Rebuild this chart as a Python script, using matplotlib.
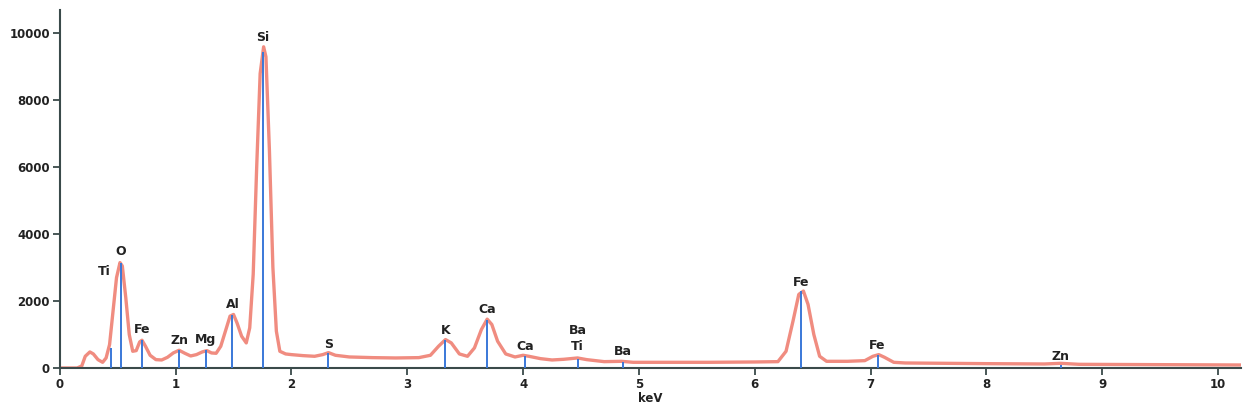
import matplotlib.pyplot as plt

# =========================
# Spectrum data
# =========================
energy = [0.00, 0.15, 0.19, 0.22, 0.26, 0.29, 0.33, 0.37, 0.40, 0.43, 0.46, 0.49,
          0.52, 0.54, 0.57, 0.60, 0.63, 0.66, 0.69, 0.71, 0.74, 0.78, 0.83, 0.88,
          0.93, 0.98, 1.03, 1.08, 1.13, 1.18, 1.23, 1.27, 1.31, 1.35, 1.39, 1.43,
          1.47, 1.50, 1.53, 1.57, 1.61, 1.64, 1.67, 1.70, 1.73, 1.76, 1.78, 1.81,
          1.84, 1.87, 1.90, 1.95, 2.00, 2.10, 2.20, 2.27, 2.32, 2.38, 2.50, 2.70,
          2.90, 3.10, 3.20, 3.27, 3.33, 3.38, 3.45, 3.52, 3.58, 3.64, 3.69, 3.73,
          3.78, 3.85, 3.93, 4.00, 4.05, 4.15, 4.25, 4.35, 4.47, 4.55, 4.70, 4.85,
          4.95, 5.20, 5.60, 6.00, 6.20, 6.27, 6.33, 6.38, 6.42, 6.46, 6.51, 6.56,
          6.62, 6.80, 6.95, 7.02, 7.07, 7.12, 7.20, 7.30, 8.00, 8.50, 8.64, 8.80,
          9.50, 10.20]
counts = [0, 0, 60, 350, 480, 420, 250, 170, 300, 700, 1700, 2700,
          3150, 3050, 2100, 1000, 500, 520, 780, 830, 650, 380, 250, 240,
          320, 450, 530, 440, 360, 400, 480, 520, 450, 440, 650, 1100,
          1550, 1600, 1350, 950, 750, 1200, 2800, 6000, 8800, 9600, 9300, 6500,
          3000, 1100, 500, 420, 400, 370, 350, 400, 460, 380, 330, 310,
          300, 310, 380, 650, 850, 750, 420, 350, 600, 1150, 1460, 1300,
          800, 420, 330, 380, 350, 280, 240, 260, 300, 250, 190, 200,
          170, 170, 170, 180, 190, 500, 1400, 2200, 2300, 1900, 1000, 350,
          200, 200, 220, 350, 400, 320, 170, 150, 130, 120, 140, 110,
          100, 90]

# peak markers: element, line energy, marker height
peak_names = ["Ti", "O", "Fe", "Zn", "Mg", "Al", "Si", "S", "K", "Ca", "Ca",
              "Ba\nTi", "Ba", "Fe", "Fe", "Zn"]
peak_kev = [0.44, 0.525, 0.71, 1.03, 1.26, 1.49, 1.755, 2.32, 3.33, 3.69, 4.02,
            4.47, 4.86, 6.40, 7.06, 8.64]
peak_height = [600, 3130, 830, 540, 540, 1580, 9450, 450, 840, 1430, 360,
               270, 180, 2300, 390, 90]
label_y = [2700, 3280, 960, 630, 660, 1700, 9680, 520, 940, 1550, 460,
           450, 300, 2370, 470, 150]
label_dx = [-0.06, 0, 0, 0, 0, 0, 0, 0, 0, 0, 0, 0, 0, 0, 0, 0]

# =========================
# Plot
# =========================
fig = plt.figure(figsize=(12.45, 4.17), dpi=100)
ax = fig.add_axes([0.048, 0.1175, 0.949, 0.8585])

ax.plot(energy, counts, color="#f08c80", lw=2.4, zorder=2)
ax.vlines(peak_kev, 0, peak_height, color="#3a78d8", lw=1.4, zorder=3)

for name, x, y, dx in zip(peak_names, peak_kev, label_y, label_dx):
    ax.text(x + dx, y, name, ha="center", va="bottom", fontsize=9,
            fontweight="bold", color="#222222", linespacing=1.3)

ax.set_xlim(0, 10.2)
ax.set_ylim(0, 10700)
ax.set_xticks(range(0, 11))
ax.set_yticks(range(0, 10001, 2000))

for s in ["top", "right"]:
    ax.spines[s].set_visible(False)
for s in ["left", "bottom"]:
    ax.spines[s].set_color("#3a4a4a")
    ax.spines[s].set_linewidth(1.5)

ax.tick_params(axis="both", direction="out", length=5, width=1.3,
               color="#3a4a4a", labelsize=8.5, pad=2)
for lbl in ax.get_xticklabels() + ax.get_yticklabels():
    lbl.set_fontweight("bold")
    lbl.set_color("#222222")

ax.set_xlabel("keV", fontsize=8.5, fontweight="bold", color="#222222", labelpad=1)

fig.savefig("out.png", dpi=100)
